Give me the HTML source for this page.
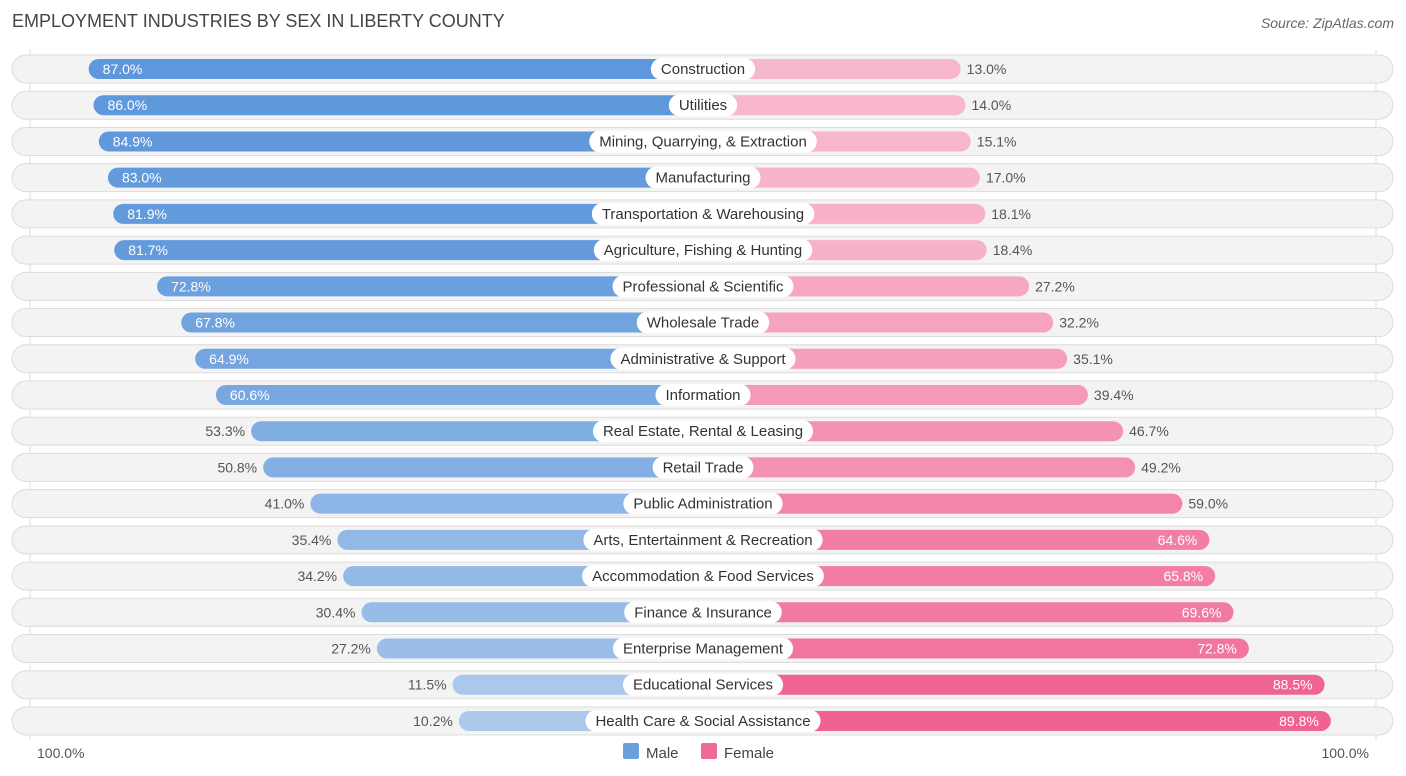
<!DOCTYPE html>
<html><head><meta charset="utf-8"><style>
body{margin:0;width:1406px;height:776px;background:#fff;font-family:"Liberation Sans",sans-serif;position:relative;overflow:hidden}
.t{position:absolute;white-space:nowrap}
</style></head><body>
<div class="t" style="left:12px;top:11px;font-size:18px;color:#444">EMPLOYMENT INDUSTRIES BY SEX IN LIBERTY COUNTY</div>
<div class="t" style="right:12px;top:15px;font-size:14px;color:#666;font-style:italic">Source: ZipAtlas.com</div>
<svg id="c" width="1406" height="776" style="position:absolute;left:0;top:0;font-family:'Liberation Sans',sans-serif"></svg>
<script>
const categories=["Construction","Utilities","Mining, Quarrying, & Extraction","Manufacturing","Transportation & Warehousing","Agriculture, Fishing & Hunting","Professional & Scientific","Wholesale Trade","Administrative & Support","Information","Real Estate, Rental & Leasing","Retail Trade","Public Administration","Arts, Entertainment & Recreation","Accommodation & Food Services","Finance & Insurance","Enterprise Management","Educational Services","Health Care & Social Assistance"];
const male=[87.0,86.0,84.9,83.0,81.9,81.7,72.8,67.8,64.9,60.6,53.3,50.8,41.0,35.4,34.2,30.4,27.2,11.5,10.2];
const female=[13.0,14.0,15.1,17.0,18.1,18.4,27.2,32.2,35.1,39.4,46.7,49.2,59.0,64.6,65.8,69.6,72.8,88.5,89.8];
const svg=document.getElementById('c');const NS='http://www.w3.org/2000/svg';
const cx=703,y0=69,dy=36.22;
const len=v=>195+4.82*v;
function mk(t,a){const e=document.createElementNS(NS,t);for(const k in a)e.setAttribute(k,a[k]);svg.appendChild(e);return e;}
function mix(a,b,f){return 'rgb('+a.map((x,i)=>Math.round(x+(b[i]-x)*f)).join(',')+')';}
mk('line',{x1:30,y1:50,x2:30,y2:740,stroke:'#ddd'});
mk('line',{x1:1376,y1:50,x2:1376,y2:740,stroke:'#ddd'});
categories.forEach((c,i)=>{
const y=y0+i*dy;
let r=mk('rect',{x:12,y:y-14,width:1381,height:28,rx:14,fill:'#f3f3f3',stroke:'#dcdcdc'});

const lm=len(male[i]),lf=len(female[i]);
let b=mk('rect',{x:cx-lm,y:y-10,width:lm,height:20,rx:10,fill:mix([172,201,236],[94,151,219],(male[i]-10)/77)});

let f=mk('rect',{x:cx,y:y-10,width:lf,height:20,rx:10,fill:mix([248,184,204],[240,98,144],(female[i]-13)/77)});

const mIn=male[i]>55,fIn=female[i]>60;
let mt=mk('text',{x:mIn?cx-lm+14:cx-lm-6,y:y+5,'font-size':14,fill:mIn?'#fff':'#555','text-anchor':mIn?'start':'end'});mt.textContent=male[i].toFixed(1)+'%';

let ft=mk('text',{x:fIn?cx+lf-12:cx+lf+6,y:y+5,'font-size':14,fill:fIn?'#fff':'#555','text-anchor':fIn?'end':'start'});ft.textContent=female[i].toFixed(1)+'%';

let lt=mk('text',{x:cx,y:y+5,'font-size':15,fill:'#333','text-anchor':'middle'});lt.textContent=c;
const w=lt.getComputedTextLength()+20;
let p=mk('rect',{x:cx-w/2,y:y-11,width:w,height:22,rx:11,fill:'#fff'});
svg.insertBefore(p,lt);


});
let a=mk('text',{x:37,y:758,'font-size':14,fill:'#555'});a.textContent='100.0%';

let a2=mk('text',{x:1369,y:758,'font-size':14,fill:'#555','text-anchor':'end'});a2.textContent='100.0%';

let l1=mk('rect',{x:623,y:743,width:16,height:16,rx:2,fill:'#6a9fdc'});

let l1t=mk('text',{x:646,y:758,'font-size':15,fill:'#444'});l1t.textContent='Male';

let l2=mk('rect',{x:701,y:743,width:16,height:16,rx:2,fill:'#f06a96'});

let l2t=mk('text',{x:724,y:758,'font-size':15,fill:'#444'});l2t.textContent='Female';

</script>
</body></html>
